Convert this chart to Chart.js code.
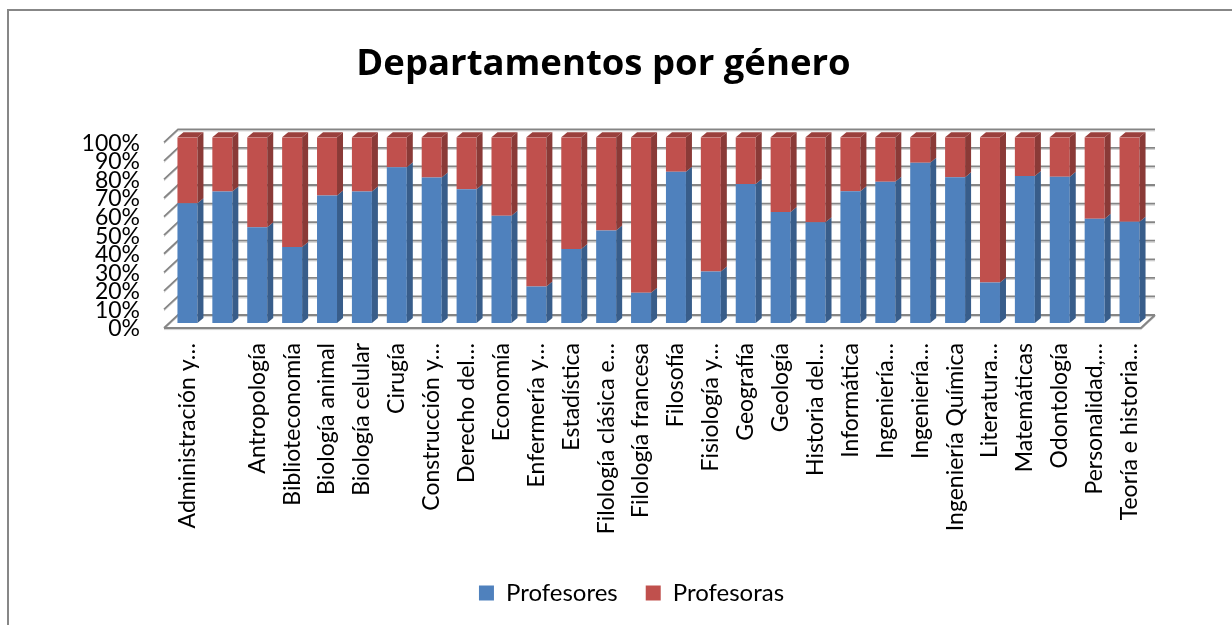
<!DOCTYPE html>
<html lang="es">
<head>
<meta charset="utf-8">
<title>Departamentos por género</title>
<script src="https://cdn.jsdelivr.net/npm/chart.js@4.4.1/dist/chart.umd.min.js"></script>
<style>
  html, body { margin: 0; padding: 0; background: #fff; }
  #wrap { width: 1232px; height: 625px; position: relative; }
</style>
</head>
<body>
<div id="wrap"><canvas id="generoChart"></canvas></div>
<script>
// Data (percent of each department)
const departamentos = [
    'Administración y…', '', 'Antropología', 'Biblioteconomía', 'Biología animal',
    'Biología celular', 'Cirugía', 'Construcción y…', 'Derecho del…', 'Economía',
    'Enfermería y…', 'Estadística', 'Filología clásica e…', 'Filología francesa',
    'Filosofía', 'Fisiología y…', 'Geografía', 'Geología', 'Historia del…',
    'Informática', 'Ingeniería…', 'Ingeniería…', 'Ingeniería Química', 'Literatura…',
    'Matemáticas', 'Odontología', 'Personalidad,…', 'Teoría e historia…'
];
const profesores = [64.5, 70.8, 51.6, 40.9, 68.6, 70.8, 83.9, 78.3, 72.0, 57.7, 19.7, 39.8, 49.8, 16.3,
                    81.5, 27.7, 74.9, 59.8, 54.3, 71.0, 76.1, 86.3, 78.5, 21.8, 79.2, 78.8, 56.2, 54.5];
const profesoras = [35.5, 29.2, 48.4, 59.1, 31.4, 29.2, 16.1, 21.7, 28.0, 42.3, 80.3, 60.2, 50.2, 83.7,
                    18.5, 72.3, 25.1, 40.2, 45.7, 29.0, 23.9, 13.7, 21.5, 78.2, 20.8, 21.2, 43.8, 45.5];
const yTickLabels = ['0%', '10%', '20%', '30%', '40%', '50%', '60%', '70%', '80%', '90%', '100%'];

const FONT = 'Lato';
const FRONT = [-6, 5];   // front edge of the floor / side wall
const BACK = [8, -8];    // back wall
const DEPTH = [6, -5];   // depth of each column
const LEGEND_SHIFT = 28; // legend sits a bit right of the title in the original

const shade = {
    side: ['#385d8a', '#8a3a37'],
    top: ['#3f6896', '#9a403d']
};

// 1. 3D box: border, walls, gridlines, column sides
const depth3d = {
    id: 'depth3d',
    afterLayout(chart) {
        chart.legend.left += LEGEND_SHIFT;
        chart.legend.right += LEGEND_SHIFT;
    },
    beforeDraw(chart) {
        const ctx = chart.ctx;
        ctx.save();
        ctx.fillStyle = '#fff';
        ctx.fillRect(0, 0, chart.width, chart.height);
        ctx.strokeStyle = '#878787';
        ctx.lineWidth = 2;
        ctx.strokeRect(8, 10, chart.width + 20, chart.height + 20);
        ctx.restore();
    },
    beforeDatasetsDraw(chart) {
        const { ctx, chartArea: { left, right }, scales: { y } } = chart;
        ctx.save();
        const gridLine = (pts, color, w, off) => {
            ctx.beginPath();
            pts.forEach((p, i) => i ? ctx.lineTo(p[0], p[1] + off) : ctx.moveTo(p[0], p[1] + off));
            ctx.strokeStyle = color;
            ctx.lineWidth = w;
            ctx.stroke();
        };
        y.ticks.forEach(t => {
            const py = y.getPixelForValue(t.value);
            const pts = [[left + FRONT[0], py + FRONT[1]], [left + BACK[0], py + BACK[1]], [right + BACK[0], py + BACK[1]]];
            gridLine(pts, '#d0d0d0', 1, 1.6);
            gridLine(pts, '#858585', 1.8, 0);
        });
        // floor
        const y0 = y.getPixelForValue(0);
        const floor = [[left + FRONT[0], y0 + FRONT[1]], [right + FRONT[0], y0 + FRONT[1]], [right + BACK[0], y0 + BACK[1]]];
        gridLine(floor, '#d0d0d0', 1, 1.6);
        gridLine(floor, '#858585', 2.2, 0);
        ctx.restore();
    },
    afterDatasetsDraw(chart) {
        const ctx = chart.ctx;
        const last = chart.data.datasets.length - 1;
        ctx.save();
        chart.data.datasets.forEach((ds, di) => {
            chart.getDatasetMeta(di).data.forEach(bar => {
                const { x, y, base, width } = bar.getProps(['x', 'y', 'base', 'width'], true);
                const r = x + width / 2, l = x - width / 2;
                ctx.fillStyle = shade.side[di];
                ctx.beginPath();
                ctx.moveTo(r, y);
                ctx.lineTo(r + DEPTH[0], y + DEPTH[1]);
                ctx.lineTo(r + DEPTH[0], base + DEPTH[1]);
                ctx.lineTo(r, base);
                ctx.closePath();
                ctx.fill();
                if (di === last) {
                    ctx.fillStyle = shade.top[di];
                    ctx.beginPath();
                    ctx.moveTo(l, y);
                    ctx.lineTo(l + DEPTH[0], y + DEPTH[1]);
                    ctx.lineTo(r + DEPTH[0], y + DEPTH[1]);
                    ctx.lineTo(r, y);
                    ctx.closePath();
                    ctx.fill();
                }
            });
        });
        ctx.restore();
    }
};

// 2. Chart
document.addEventListener('DOMContentLoaded', () => {
    const ctx = document.getElementById('generoChart');
    new Chart(ctx, {
        type: 'bar',
        data: {
            labels: departamentos,
            datasets: [
                { label: 'Profesores', data: profesores, backgroundColor: '#4f81bd' },
                { label: 'Profesoras', data: profesoras, backgroundColor: '#c0504d' }
            ]
        },
        options: {
            responsive: true,
            maintainAspectRatio: false,
            animation: false,
            devicePixelRatio: 1,
            layout: { padding: { top: 0, left: 60, right: 85, bottom: 10 } },
            datasets: { bar: { categoryPercentage: 1, barPercentage: 0.573 } },
            plugins: {
                title: {
                    display: true,
                    text: 'Departamentos por género',
                    color: '#000',
                    font: { family: 'Open Sans', size: 36.5, weight: 'bold' },
                    padding: { top: 43, bottom: 50.5 }
                },
                legend: {
                    position: 'bottom',
                    labels: {
                        color: '#000',
                        font: { family: FONT, size: 24 },
                        boxWidth: 15,
                        boxHeight: 15,
                        padding: 28
                    }
                },
                tooltip: { enabled: false }
            },
            scales: {
                x: {
                    stacked: true,
                    grid: { display: false, drawTicks: false },
                    border: { display: false },
                    ticks: {
                        autoSkip: false, minRotation: 90, maxRotation: 90, padding: 20,
                        color: '#000', font: { family: FONT, size: 23 }
                    },
                    afterFit(s) { s.height = 230; }
                },
                y: {
                    stacked: true,
                    min: 0,
                    max: 100,
                    grid: { display: false, drawTicks: false },
                    border: { display: false },
                    ticks: {
                        autoSkip: false, stepSize: 10, padding: 30, labelOffset: 6,
                        color: '#000', font: { family: FONT, size: 23 },
                        callback: (v, i) => yTickLabels[i]
                    },
                    afterFit(s) { s.width = 110; }
                }
            }
        },
        plugins: [depth3d]
    });
});
</script>
</body>
</html>
